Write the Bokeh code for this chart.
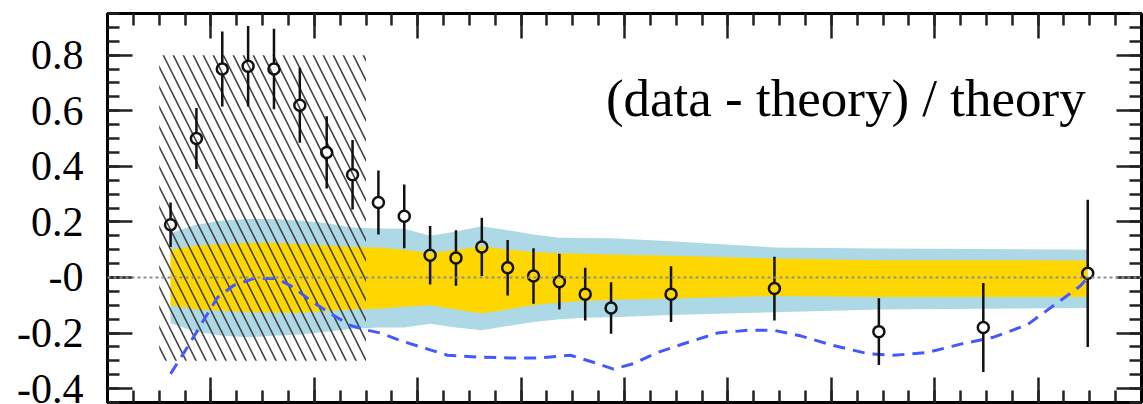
import numpy as np
from bokeh.plotting import figure
from bokeh.models import LinearAxis, FixedTicker, Span, Label, Range1d
from bokeh.embed import file_html
from bokeh.resources import INLINE

# --- measured points: (data - theory) / theory ---
bin_x = [0.61, 0.86, 1.11, 1.36, 1.61, 1.86, 2.12, 2.37, 2.62, 2.87, 3.12, 3.37,
         3.62, 3.87, 4.12, 4.37, 4.62, 4.87, 5.45, 6.45, 7.46, 8.47, 9.48]
ratio = [0.19, 0.50, 0.75, 0.76, 0.75, 0.62, 0.45, 0.37, 0.27, 0.22, 0.08, 0.07,
         0.11, 0.035, 0.005, -0.015, -0.06, -0.11, -0.06, -0.04, -0.195, -0.18, 0.015]
ratio_err = [0.08, 0.11, 0.135, 0.145, 0.145, 0.135, 0.13, 0.125, 0.115, 0.115, 0.105, 0.10,
             0.105, 0.10, 0.10, 0.10, 0.095, 0.093, 0.10, 0.115, 0.12, 0.16, 0.265]

# --- theory uncertainty bands (inner and outer) ---
inner_hi = [0.10, 0.115, 0.12, 0.125, 0.125, 0.12, 0.115, 0.11, 0.108, 0.10, 0.088, 0.10,
            0.112, 0.10, 0.092, 0.087, 0.085, 0.083, 0.078, 0.068, 0.062, 0.062, 0.061]
inner_lo = [-0.10, -0.115, -0.12, -0.125, -0.127, -0.127, -0.12, -0.115, -0.113, -0.105, -0.10, -0.115,
            -0.13, -0.115, -0.10, -0.09, -0.085, -0.08, -0.076, -0.067, -0.07, -0.07, -0.07]
outer_hi = [0.16, 0.19, 0.205, 0.21, 0.21, 0.205, 0.195, 0.18, 0.176, 0.175, 0.15, 0.165,
            0.184, 0.17, 0.155, 0.143, 0.142, 0.141, 0.13, 0.108, 0.104, 0.102, 0.10]
outer_lo = [-0.165, -0.195, -0.21, -0.215, -0.21, -0.205, -0.195, -0.185, -0.18, -0.18, -0.167, -0.18,
            -0.19, -0.175, -0.16, -0.15, -0.145, -0.143, -0.135, -0.125, -0.115, -0.113, -0.11]

# --- alternative prediction (dashed curve) ---
alt_x = [0.61, 0.774, 0.928, 1.064, 1.219, 1.412, 1.644, 1.799, 1.963, 2.157, 2.35, 2.515,
         2.64, 2.834, 3.027, 3.288, 3.607, 3.926, 4.159, 4.478, 4.739, 4.894, 5.087, 5.319,
         5.609, 5.899, 6.19, 6.441, 6.702, 7.021, 7.35, 7.602, 7.93, 8.25, 8.569, 8.897,
         9.217, 9.41, 9.48]
alt_ratio = [-0.347, -0.25, -0.155, -0.072, -0.029, -0.004, -0.004, -0.036, -0.083, -0.13, -0.173, -0.19,
             -0.2, -0.227, -0.25, -0.28, -0.287, -0.29, -0.29, -0.28, -0.31, -0.33, -0.31, -0.27,
             -0.234, -0.2, -0.19, -0.19, -0.21, -0.245, -0.274, -0.28, -0.27, -0.24, -0.215, -0.17,
             -0.083, -0.03, 0.0]

# --- hatched (excluded) region ---
excl_x = (0.5, 2.5)
excl_y = (-0.3, 0.8)

# --- axes ---
x_ticks = list(range(0, 11))
x_minor = [float(v) for v in np.arange(0, 10.001, 0.25)]
y_ticks = [-0.4, -0.2, 0.0, 0.2, 0.4, 0.6, 0.8]
y_tick_labels = ["-0.4", "-0.2", "-0", "0.2", "0.4", "0.6", "0.8"]
y_minor = [round(float(v), 3) for v in np.arange(-0.45, 0.951, 0.05)]

SERIF = "Liberation Serif"
W, H = 1143, 404
LEFT, RIGHT, TOP, BOTTOM = 107, 2, 13, 2

p = figure(width=W, height=H, x_range=Range1d(0, 10), y_range=Range1d(-0.45, 0.95),
           title=None, output_backend="svg", toolbar_location=None,
           x_axis_location=None, y_axis_location=None,
           min_border_left=LEFT, min_border_right=RIGHT,
           min_border_top=TOP, min_border_bottom=BOTTOM)
p.xgrid.grid_line_color = None
p.ygrid.grid_line_color = None
p.outline_line_color = "black"
p.outline_line_width = 3
p.background_fill_color = "white"


def frame_axis(side, ticks, minor, labels=None):
    ax = LinearAxis(ticker=FixedTicker(ticks=ticks, minor_ticks=minor))
    ax.axis_line_color = "black"
    ax.axis_line_width = 3
    ax.major_tick_in = 25
    ax.major_tick_out = 0
    ax.minor_tick_in = 12
    ax.minor_tick_out = 0
    ax.major_tick_line_width = 2.5
    ax.minor_tick_line_width = 2.5
    ax.major_tick_line_color = "#222222"
    ax.minor_tick_line_color = "#222222"
    if labels is None:
        labels = [""] * len(ticks)
        ax.major_label_standoff = 0
    else:
        ax.major_label_text_font = SERIF
        ax.major_label_text_font_size = "42px"
        ax.major_label_text_color = "black"
        ax.major_label_standoff = 24
    ax.major_label_overrides = dict(zip(ticks, labels))
    p.add_layout(ax, side)


frame_axis("left", y_ticks, y_minor, y_tick_labels)
frame_axis("right", y_ticks, y_minor)
frame_axis("above", x_ticks, x_minor)
frame_axis("below", x_ticks, x_minor)

# uncertainty bands
p.varea(x=bin_x, y1=outer_lo, y2=outer_hi, fill_color="#ADD8E6")
p.varea(x=bin_x, y1=inner_lo, y2=inner_hi, fill_color="#FFD700")

# hatched region
p.quad(left=[excl_x[0]], right=[excl_x[1]], bottom=[excl_y[0]], top=[excl_y[1]],
       fill_alpha=0, line_alpha=0, hatch_pattern="\\", hatch_scale=20,
       hatch_weight=1.6, hatch_color="#444444")

# zero reference line
p.add_layout(Span(location=0, dimension="width", line_color="#8c8c8c",
                  line_dash="3 3", line_width=2))

# alternative prediction
p.line(alt_x, alt_ratio, line_color="#4458ff", line_width=3, line_dash="12 8")

# error bars, interrupted at the open markers
marker_size = 11
px_per_unit = (H - TOP - BOTTOM) / 1.4
gap = (marker_size / 2) / px_per_unit
yv = np.array(ratio)
ev = np.array(ratio_err)
p.segment(x0=bin_x, x1=bin_x, y0=yv + gap, y1=yv + ev, line_color="#111111", line_width=2.5)
p.segment(x0=bin_x, x1=bin_x, y0=yv - ev, y1=yv - gap, line_color="#111111", line_width=2.5)
p.scatter(bin_x, ratio, marker="circle", size=marker_size, fill_alpha=0,
          line_color="#111111", line_width=2.5)

p.add_layout(Label(x=9.46, y=0.645, text="(data - theory) / theory",
                   text_align="right", text_baseline="alphabetic",
                   text_font=SERIF, text_font_size="53px", text_color="black"))

open("out.html", "w").write(file_html(p, INLINE))
